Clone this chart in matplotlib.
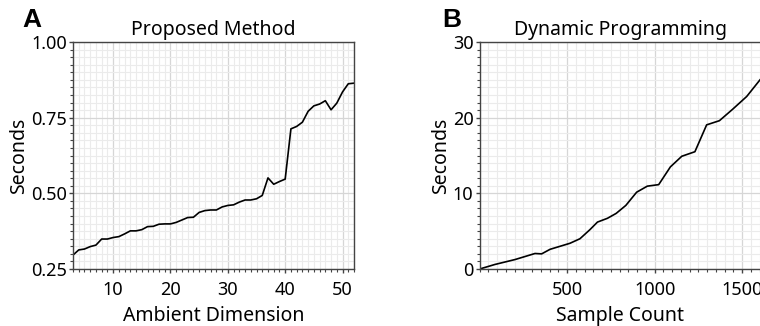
import matplotlib
matplotlib.use("Agg")
import matplotlib.pyplot as plt
from matplotlib.ticker import MultipleLocator, FormatStrFormatter

plt.rcParams['font.family'] = ['Noto Sans', 'DejaVu Sans']

# Panel A data
dims = list(range(3, 53))
secs_a = [0.296, 0.313, 0.316, 0.324, 0.329, 0.349, 0.349, 0.354, 0.357, 0.366,
          0.376, 0.376, 0.380, 0.390, 0.391, 0.398, 0.399, 0.399, 0.404, 0.412,
          0.420, 0.421, 0.437, 0.443, 0.445, 0.445, 0.455, 0.460, 0.462, 0.471,
          0.478, 0.478, 0.482, 0.493, 0.551, 0.530, 0.539, 0.547, 0.713, 0.721,
          0.735, 0.771, 0.789, 0.795, 0.806, 0.776, 0.798, 0.835, 0.862, 0.864]

# Panel B data
samples = [0, 87, 202, 316, 354, 402, 459, 516, 573, 630, 673, 730, 780, 835,
           897, 958, 1023, 1090, 1155, 1230, 1297, 1370, 1445, 1526, 1602]
secs_b = [0.0, 0.6, 1.25, 2.05, 2.0, 2.6, 3.0, 3.4, 4.0, 5.2, 6.2, 6.7, 7.35, 8.4,
          10.15, 10.95, 11.15, 13.5, 14.9, 15.5, 19.05, 19.6, 21.1, 22.8, 25.0]

W, H = 760, 326
fig = plt.figure(figsize=(W / 100, H / 100), dpi=100)

def px_axes(l, r, t, b):
    return fig.add_axes([l / W, 1 - b / H, (r - l) / W, (b - t) / H])

axA = px_axes(73, 354, 42, 269)
axB = px_axes(479.7, 760.7, 42, 269)

spine_col = '#444444'
for ax in (axA, axB):
    for s in ax.spines.values():
        s.set_color(spine_col)
        s.set_linewidth(1.0)
    ax.grid(True, which='major', color='#d6d6d6', linewidth=0.9)
    ax.grid(True, which='minor', color='#ebebeb', linewidth=0.8)
    ax.set_axisbelow(True)
    ax.tick_params(which='major', direction='out', length=3, width=1, color=spine_col,
                   labelsize=13)
    ax.tick_params(which='minor', direction='out', length=2.2, width=0.8, color=spine_col)
    ax.tick_params(axis='x', which='major', pad=5.5)
    ax.tick_params(axis='y', which='major', pad=1.5)

axA.plot(dims, secs_a, color='black', linewidth=1.2)
axA.set_xlim(3, 52)
axA.set_ylim(0.25, 1.0)
axA.xaxis.set_major_locator(MultipleLocator(10))
axA.xaxis.set_minor_locator(MultipleLocator(1))
axA.yaxis.set_major_locator(MultipleLocator(0.25))
axA.yaxis.set_minor_locator(MultipleLocator(0.025))
axA.yaxis.set_major_formatter(FormatStrFormatter('%.2f'))
axA.set_title('Proposed Method', fontsize=14, pad=5)
axA.set_xlabel('Ambient Dimension', fontsize=14, labelpad=5)
axA.set_ylabel('Seconds', fontsize=14, labelpad=1)
fig.text(22 / W, 1 - 26.7 / H, 'A', fontsize=19, fontweight='bold',
         family='Liberation Sans', ha='left', va='baseline')

axB.plot(samples, secs_b, color='black', linewidth=1.2)
axB.set_xlim(0, 1606)
axB.set_ylim(0, 30)
axB.xaxis.set_minor_locator(MultipleLocator(50))
axB.yaxis.set_major_locator(MultipleLocator(10))
axB.yaxis.set_minor_locator(MultipleLocator(1))
axB.set_xticks([500, 1000, 1500])
axB.set_title('Dynamic Programming', fontsize=14, pad=5)
axB.set_xlabel('Sample Count', fontsize=14, labelpad=5)
axB.set_ylabel('Seconds', fontsize=14, labelpad=1)
fig.text(442 / W, 1 - 26.7 / H, 'B', fontsize=19, fontweight='bold',
         family='Liberation Sans', ha='left', va='baseline')

fig.savefig('out.png', dpi=100)
